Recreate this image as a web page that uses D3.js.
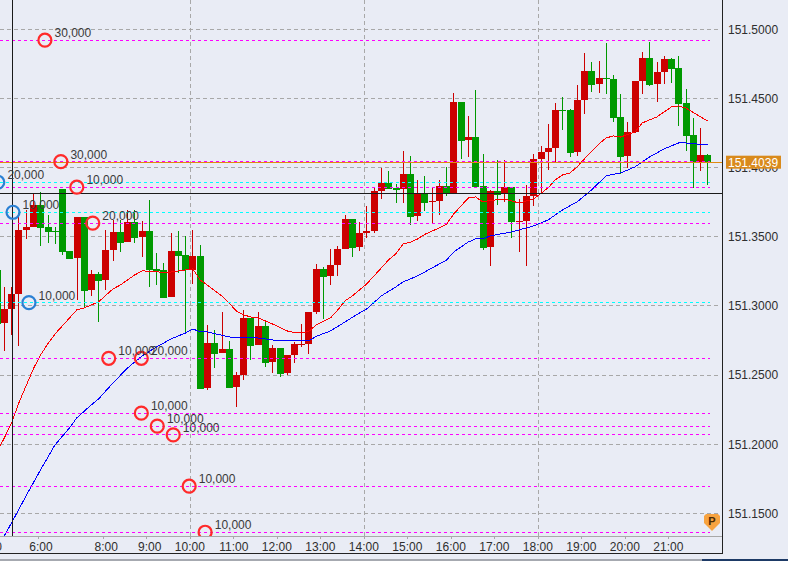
<!DOCTYPE html>
<html lang="en">
<head>
<meta charset="UTF-8">
<title>USDJPY candles</title>
<style>
  html, body { margin: 0; padding: 0; background: #e9ecf5; overflow: hidden; }
  svg { display: block; font-family: "Liberation Sans", Arial, sans-serif; font-size: 12px; }
  .axis text { fill: #2e2e2e; font-size: 12px; font-family: "Liberation Sans", Arial, sans-serif; }
  .axis .tick line { stroke: #a8a8a8; shape-rendering: crispEdges; }
  .axis .domain { display: none; }
  .crisp { shape-rendering: crispEdges; }
  .tag { fill: #3a3a3a; }
</style>
<script src="https://d3js.org/d3.v7.min.js"></script>
</head>
<body>
<script>
// bar number of the first candle is -1, the last one 97
const firstBar = -1;
const opens = [151.3260,151.2879,151.2978,151.3086,151.3549,151.3571,151.3730,151.3571,151.3542,151.3846,151.3397,151.3349,151.3643,151.3115,151.3231,151.3188,151.3404,151.3535,151.3462,151.3607,151.3501,151.3542,151.3267,151.3262,151.3067,151.3397,151.3368,151.3260,151.3361,151.2405,151.2732,151.2662,151.2689,151.2416,151.2501,151.2911,151.2718,151.2855,151.2595,151.2696,151.2517,151.2645,151.2718,151.2725,151.2956,151.3267,151.3217,151.3296,151.3412,151.3629,151.3426,151.3527,151.3542,151.3831,151.3889,151.3853,151.3846,151.3954,151.3650,151.3809,151.3752,151.3759,151.3867,151.3817,151.4475,151.4200,151.4221,151.3867,151.3426,151.3831,151.3817,151.3860,151.3603,151.3614,151.3795,151.4062,151.4113,151.4142,151.4417,151.4417,151.4113,151.4489,151.4699,151.4605,151.4648,151.4641,151.4366,151.4084,151.4258,151.4626,151.4793,151.4605,151.4691,151.4785,151.4720,151.4467,151.4236,151.4041,151.4091];
const highs = [151.3260,151.3139,151.3137,151.3672,151.3694,151.3814,151.3824,151.3658,151.3573,151.3846,151.3397,151.3643,151.3643,151.3260,151.3248,151.3549,151.3621,151.3621,151.3694,151.3694,151.3614,151.3766,151.3381,151.3313,151.3530,151.3542,151.3506,151.3549,151.3441,151.2862,151.2826,151.2954,151.2747,151.2525,151.2971,151.2911,151.2956,151.2898,151.2718,151.2696,151.2645,151.2741,151.2869,151.2956,151.3303,151.3282,151.3412,151.3433,151.3658,151.3629,151.3607,151.3723,151.3860,151.3997,151.3976,151.3882,151.4120,151.4084,151.3911,151.3940,151.3853,151.3911,151.4005,151.4537,151.4475,151.4373,151.4561,151.4099,151.3838,151.4055,151.4055,151.3860,151.3773,151.3874,151.4099,151.4156,151.4315,151.4467,151.4511,151.4424,151.4597,151.4829,151.4764,151.4771,151.4901,151.4670,151.4532,151.4330,151.4626,151.4836,151.4908,151.4764,151.4807,151.4793,151.4807,151.4569,151.4359,151.4287,151.4099];
const lows = [151.2869,151.2676,151.2790,151.2713,151.3484,151.3569,151.3433,151.3457,151.3448,151.3368,151.3342,151.3043,151.2990,151.3074,151.2886,151.3115,151.3327,151.3392,151.3462,151.3453,151.3356,151.3139,151.3151,151.3060,151.3067,151.3236,151.2802,151.3159,151.2397,151.2392,151.2554,151.2662,151.2409,151.2269,151.2465,151.2609,151.2718,151.2561,151.2517,151.2488,151.2501,151.2585,151.2705,151.2653,151.2942,151.2906,151.3151,151.3217,151.3412,151.3354,151.3397,151.3491,151.3527,151.3773,151.3846,151.3744,151.3744,151.3585,151.3614,151.3686,151.3600,151.3658,151.3795,151.3817,151.4062,151.4077,151.3860,151.3404,151.3289,151.3730,151.3752,151.3491,151.3390,151.3289,151.3723,151.3809,151.3983,151.4034,151.4272,151.4077,151.4084,151.4388,151.4547,151.4542,151.4532,151.4330,151.3954,151.3997,151.4250,151.4532,151.4590,151.4475,151.4605,151.4612,151.4301,151.4120,151.3853,151.3976,151.3874];
const closes = [151.2869,151.2978,151.3086,151.3549,151.3571,151.3730,151.3566,151.3537,151.3537,151.3392,151.3342,151.3643,151.3108,151.3231,151.3180,151.3404,151.3535,151.3457,151.3607,151.3493,151.3542,151.3262,151.3255,151.3060,151.3397,151.3363,151.3260,151.3361,151.2400,151.2732,151.2655,151.2689,151.2409,151.2501,151.2911,151.2713,151.2855,151.2590,151.2696,151.2510,151.2645,151.2725,151.2725,151.2956,151.3267,151.3209,151.3296,151.3412,151.3629,151.3421,151.3527,151.3542,151.3831,151.3889,151.3846,151.3838,151.3954,151.3643,151.3809,151.3744,151.3759,151.3867,151.3809,151.4475,151.4193,151.4221,151.3860,151.3419,151.3831,151.3802,151.3860,151.3607,151.3611,151.3795,151.4062,151.4113,151.4142,151.4417,151.4409,151.4106,151.4489,151.4699,151.4597,151.4648,151.4639,151.4359,151.4077,151.4258,151.4626,151.4793,151.4597,151.4691,151.4785,151.4713,151.4460,151.4229,151.4041,151.4091,151.4039];

const fastBars = [-1,0,1,2,4,5,6,7,8,10,11,13,15,16,17,18,19,21,22,23,25,26,27,28,30,31,32,33,34,35,37,39,40,41,42,43,45,46,47,48,50,51,52,53,54,55,56,57,58,60,61,62,63,64,65,66,67,69,71,73,75,76,77,78,79,80,82,83,84,85,87,88,90,92,93,94,97];
const fastMa = [151.1944,151.2045,151.2154,151.2298,151.2544,151.2645,151.2725,151.2797,151.2855,151.2971,151.2985,151.3029,151.3123,151.3151,151.3188,151.3224,151.3253,151.3249,151.3238,151.3245,151.3260,151.3267,151.3188,151.3151,151.3072,151.3021,151.2963,151.2935,151.2920,151.2913,151.2869,151.2819,151.2808,151.2804,151.2815,151.2862,151.2913,151.2971,151.3036,151.3072,151.3159,151.3217,151.3274,151.3332,151.3376,151.3448,151.3459,151.3484,151.3517,151.3564,151.3592,151.3665,151.3723,151.3780,151.3788,151.3752,151.3762,151.3773,151.3744,151.3773,151.3853,151.3911,151.3947,151.3961,151.4005,151.4062,151.4171,151.4214,151.4229,151.4221,151.4258,151.4323,151.4366,151.4438,151.4446,151.4431,151.4337];
const slowBars = [-1,0,1,3,5,7,9,10,12,13,15,17,19,21,23,25,26,27,28,31,35,38,42,43,45,47,49,50,52,54,55,57,59,61,62,64,65,66,67,70,73,75,77,79,81,83,85,87,89,91,93,94,97];
const slowMa = [151.1243,151.1337,151.1431,151.1626,151.1814,151.1995,151.2118,151.2190,151.2284,151.2327,151.2443,151.2551,151.2638,151.2703,151.2761,151.2804,151.2833,151.2812,151.2812,151.2775,151.2768,151.2747,151.2747,151.2779,151.2819,151.2884,151.2949,151.2978,151.3072,151.3137,151.3173,151.3217,151.3274,151.3332,151.3390,151.3462,151.3484,151.3484,151.3506,151.3535,151.3578,151.3621,151.3694,151.3752,151.3838,151.3940,151.3961,151.4005,151.4077,151.4135,151.4178,151.4178,151.4164];

// order levels
const sellLevels = [151.4921,151.4043,151.3858,151.3598,151.2621,151.2621,151.2224,151.2130,151.2067,151.1696,151.1363];
const sellSlots = [5.6,7.8,10,12.2,14.4,18.9,18.9,21.1,23.3,25.5,27.7];
const sellSizes = ["30,000","30,000","10,000","20,000","10,000","20,000","10,000","10,000","10,000","10,000","10,000"];
const buyLevels = [151.3894,151.3677,151.3023];
const buySlots = [-0.9,1.2,3.4];
const buySizes = ["20,000","10,000","10,000"];

const priceTicks = [151.5,151.45,151.4,151.35,151.3,151.25,151.2,151.15];
const hourBars = [-2.4,4.6,13.6,19.6,25.6,31.6,37.6,43.6,49.6,55.6,61.6,67.6,73.6,79.6,85.6,91.6];
const hourLabels = ["5:00","6:00","8:00","9:00","10:00","11:00","12:00","13:00","14:00","15:00","16:00","17:00","18:00","19:00","20:00","21:00"];
const gridBars = [25.6,49.6,73.6];

const lastPrice = 151.4039;
const crossPrice = 151.3814;
const crossBar = 1.1;

const width = 788, height = 561;
const plotRight = 722, plotBottom = 536;
const bars = d3.range(opens.length).map(i => i + firstBar);

const x = d3.scaleLinear().domain([0, 97]).range([4.3, 707.55]);
const y = d3.scaleLinear().domain([151.15, 151.5]).range([513.3, 29.3]);
const row = v => Math.floor(y(v)) + 0.5;

const svg = d3.select("body").append("svg")
  .attr("width", width)
  .attr("height", height);

svg.append("clipPath").attr("id", "plot")
  .append("rect")
  .attr("width", plotRight)
  .attr("height", plotBottom);

const plot = svg.append("g").attr("clip-path", "url(#plot)");

// grid
plot.selectAll(".hgrid")
  .data(priceTicks)
  .enter().append("line")
  .attr("class", "hgrid crisp")
  .attr("x1", 0).attr("x2", 720)
  .attr("y1", row).attr("y2", row)
  .attr("stroke", "#a8a8a8")
  .attr("stroke-dasharray", "4 3");

plot.selectAll(".vgrid")
  .data(gridBars)
  .enter().append("line")
  .attr("class", "vgrid crisp")
  .attr("x1", d => Math.round(x(d)) + 0.5).attr("x2", d => Math.round(x(d)) + 0.5)
  .attr("y1", 0).attr("y2", plotBottom)
  .attr("stroke", "#a8a8a8")
  .attr("stroke-dasharray", "4 3");

// candles
const up = i => closes[i] >= opens[i];
const candleColor = i => up(i) ? "#cc0000" : "#009900";
const left = i => Math.round(x(bars[i]) - 3.3);

const candles = plot.selectAll(".candle")
  .data(bars.map((d, i) => i))
  .enter().append("g")
  .attr("class", "candle crisp")
  .attr("fill", candleColor);

candles.append("rect")
  .attr("x", i => left(i) + 3)
  .attr("width", 1)
  .attr("y", i => Math.round(y(highs[i])))
  .attr("height", i => Math.max(1, Math.round(y(lows[i])) - Math.round(y(highs[i]))));

candles.append("rect")
  .attr("x", left)
  .attr("width", 7)
  .attr("y", i => Math.round(y(Math.max(opens[i], closes[i]))))
  .attr("height", i => Math.max(1, Math.round(y(Math.min(opens[i], closes[i]))) - Math.round(y(Math.max(opens[i], closes[i])))));

// moving averages
const maLine = bs => d3.line().x((d, i) => x(bs[i])).y(d => y(d));

plot.append("path")
  .attr("d", maLine(fastBars)(fastMa))
  .attr("fill", "none")
  .attr("stroke", "#ff0000")
  .attr("class", "crisp");

plot.append("path")
  .attr("d", maLine(slowBars)(slowMa))
  .attr("fill", "none")
  .attr("stroke", "#0000ff")
  .attr("class", "crisp");

// order lines
function levelLines(levels, color) {
  plot.selectAll(null)
    .data(levels)
    .enter().append("line")
    .attr("class", "crisp")
    .attr("x1", 0).attr("x2", 710)
    .attr("y1", row).attr("y2", row)
    .attr("stroke", color)
    .attr("stroke-dasharray", "3 3");
}
levelLines(sellLevels, "#ff00ff");
levelLines(buyLevels, "#00ffff");

// current price and crosshair
plot.append("line")
  .attr("class", "crisp")
  .attr("x1", 0).attr("x2", plotRight)
  .attr("y1", row(lastPrice)).attr("y2", row(lastPrice))
  .attr("stroke", "#e08a10");

plot.append("line")
  .attr("class", "crisp")
  .attr("x1", 0).attr("x2", plotRight)
  .attr("y1", row(crossPrice)).attr("y2", row(crossPrice))
  .attr("stroke", "#1a1a1a");

plot.append("line")
  .attr("class", "crisp")
  .attr("x1", Math.floor(x(crossBar)) + 0.5).attr("x2", Math.floor(x(crossBar)) + 0.5)
  .attr("y1", 0).attr("y2", plotBottom)
  .attr("stroke", "#1a1a1a");

// order markers
function markers(levels, slots, sizes, color) {
  plot.selectAll(null)
    .data(levels)
    .enter().append("circle")
    .attr("cx", (d, i) => x(slots[i]))
    .attr("cy", d => y(d))
    .attr("r", 6.5)
    .attr("fill", "none")
    .attr("stroke", color)
    .attr("stroke-width", 2.2);

  plot.selectAll(null)
    .data(levels)
    .enter().append("text")
    .attr("class", "tag")
    .attr("x", (d, i) => x(slots[i]) + 9.6)
    .attr("y", d => y(d) - 3)
    .text((d, i) => sizes[i]);
}
markers(sellLevels, sellSlots, sellSizes, "#ff2a2a");
markers(buyLevels, buySlots, buySizes, "#2a80d4");

// axes
const xAxis = d3.axisBottom(x)
  .tickValues(hourBars)
  .tickFormat((d, i) => hourLabels[i])
  .tickSize(2)
  .tickPadding(4);

svg.append("g")
  .attr("class", "axis")
  .attr("transform", `translate(0,${plotBottom + 0.5})`)
  .call(xAxis)
  .selectAll("text")
  .attr("text-anchor", "end")
  .attr("dx", 14.5);

const yAxis = d3.axisRight(y)
  .tickValues(priceTicks)
  .tickFormat(d3.format(".4f"))
  .tickSize(0)
  .tickPadding(6);

svg.append("g")
  .attr("class", "axis")
  .attr("transform", `translate(${plotRight},0)`)
  .call(yAxis);

svg.append("line")
  .attr("class", "crisp")
  .attr("x1", 0).attr("x2", plotRight)
  .attr("y1", plotBottom + 0.5).attr("y2", plotBottom + 0.5)
  .attr("stroke", "#a8a8a8");

// frame
svg.append("path")
  .attr("class", "crisp")
  .attr("d", "M722.5,0V553.5H0")
  .attr("fill", "none")
  .attr("stroke", "#222");

// last price label
svg.append("rect")
  .attr("x", 726).attr("y", y(lastPrice) - 6.5)
  .attr("width", 55).attr("height", 13)
  .attr("fill", "#d98a1c");

svg.append("text")
  .attr("x", 728).attr("y", y(lastPrice))
  .attr("dy", "0.36em")
  .attr("fill", "#fff")
  .text(d3.format(".4f")(lastPrice));

// P badge
const badge = svg.append("g").attr("transform", "translate(712,514)");
badge.append("path")
  .attr("d", "M-8,2 L-6,0 L6,0 L8,2 L8,9 L0,17 L-8,9 Z")
  .attr("fill", "#f7a340");
badge.append("text")
  .attr("text-anchor", "middle")
  .attr("y", 11)
  .attr("font-weight", "bold")
  .attr("font-size", 11)
  .attr("fill", "#4a2a05")
  .text("P");

// window edge at the very bottom
svg.append("rect").attr("x", 0).attr("y", 559).attr("width", 706).attr("height", 2).attr("fill", "#a6a9b0");
svg.append("rect").attr("x", 702).attr("y", 559).attr("width", 86).attr("height", 2).attr("fill", "#1d3a66");
</script>
</body>
</html>
